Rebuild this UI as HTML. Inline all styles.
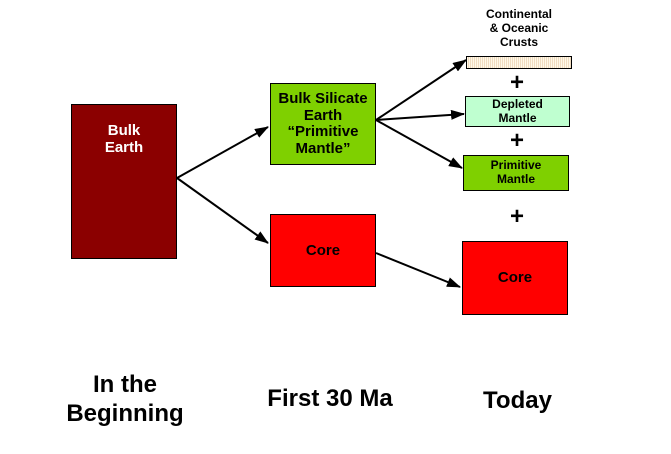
<!DOCTYPE html><html><head><style>
body{margin:0;width:671px;height:454px;background:#fff;position:relative;font-family:"Liberation Sans",Arial,sans-serif;font-weight:bold;overflow:hidden}
.b{position:absolute;box-sizing:border-box;border:1px solid #000;text-align:center;display:flex;align-items:center;justify-content:center;line-height:1.15}
.t{position:absolute;text-align:center;line-height:1.15}
</style></head><body>
<div class="b" style="left:71px;top:104px;width:106px;height:155px;background:#8b0000;color:#fff;font-size:15px;align-items:flex-start;padding-top:17px">Bulk<br>Earth</div>
<div class="b" style="left:270px;top:83px;width:106px;height:82px;background:#7fd000;font-size:15px;line-height:1.1">Bulk Silicate<br>Earth<br>“Primitive<br>Mantle”</div>
<div class="b" style="left:270px;top:214px;width:106px;height:73px;background:#ff0000;font-size:15px">Core</div>
<div class="b" style="left:462px;top:241px;width:106px;height:74px;background:#ff0000;font-size:15px">Core</div>
<div class="b" style="left:466px;top:56px;width:106px;height:13px;background:repeating-linear-gradient(90deg,#fff8e8 0 1px,#f0dcc0 1px 2px)"></div>
<div class="b" style="left:465px;top:96px;width:105px;height:31px;background:#bfffd0;font-size:12px">Depleted<br>Mantle</div>
<div class="b" style="left:463px;top:155px;width:106px;height:36px;background:#7fd000;font-size:12px">Primitive<br>Mantle</div>
<div class="t" style="left:460px;top:8px;width:118px;font-size:12px">Continental<br>&amp; Oceanic<br>Crusts</div>
<div class="t" style="left:503px;top:69px;width:28px;font-size:24px">+</div>
<div class="t" style="left:503px;top:127px;width:28px;font-size:24px">+</div>
<div class="t" style="left:503px;top:203px;width:28px;font-size:24px">+</div>
<div class="t" style="left:35px;top:371px;width:180px;font-size:24px;line-height:1.2">In the<br>Beginning</div>
<div class="t" style="left:245px;top:385px;width:170px;font-size:24px">First 30 Ma</div>
<div class="t" style="left:445px;top:387px;width:145px;font-size:24px">Today</div>
<svg width="671" height="454" style="position:absolute;left:0;top:0">
<defs><marker id="a" markerWidth="14" markerHeight="10" refX="13" refY="5" orient="auto" markerUnits="userSpaceOnUse"><path d="M0,0L14,5L0,10z"/></marker></defs>
<g stroke="#000" stroke-width="2" marker-end="url(#a)">
<line x1="177" y1="178" x2="268" y2="127"/>
<line x1="177" y1="178" x2="268" y2="243"/>
<line x1="376" y1="120" x2="466" y2="60"/>
<line x1="376" y1="120" x2="464" y2="114"/>
<line x1="376" y1="120" x2="462" y2="168"/>
<line x1="376" y1="253" x2="460" y2="287"/>
</g></svg>
</body></html>
